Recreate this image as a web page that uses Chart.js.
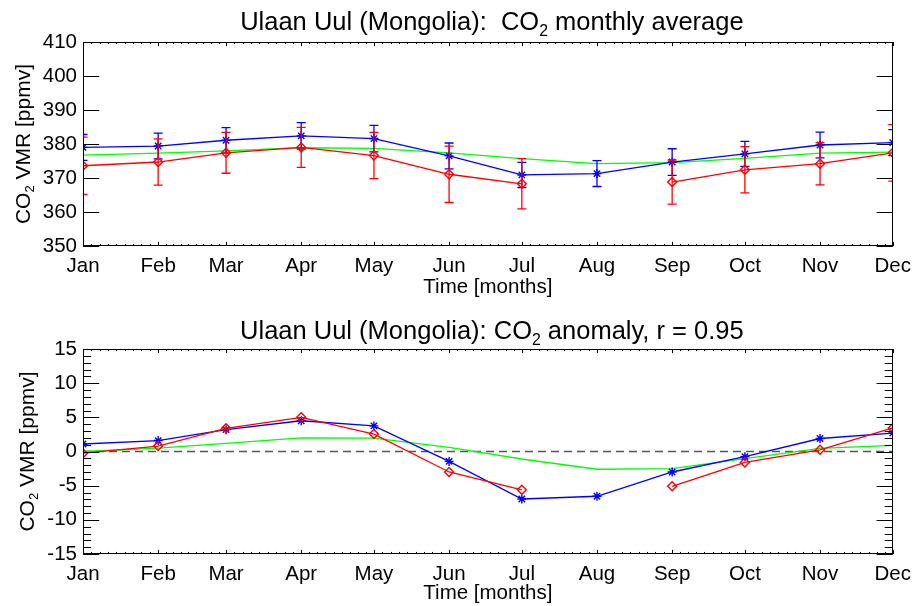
<!DOCTYPE html>
<html>
<head>
<meta charset="utf-8">
<script src="https://cdn.jsdelivr.net/npm/chart.js@4.4.0/dist/chart.umd.min.js"></script>
<style>
  html, body { margin: 0; padding: 0; background: #fff; }
  #wrap { position: relative; width: 919px; height: 606px; }
  canvas { position: absolute; left: 0; }
  #topChart { top: 0; }
  #bottomChart { top: 303px; }
</style>
</head>
<body>
<div id="wrap">
  <canvas id="topChart" width="919" height="303"></canvas>
  <canvas id="bottomChart" width="919" height="303"></canvas>
</div>
<script>
const FONT = "'Liberation Sans', Arial, Helvetica, sans-serif";

// x axis: day of year where each month starts
const monthNames = ["Jan", "Feb", "Mar", "Apr", "May", "Jun", "Jul", "Aug", "Sep", "Oct", "Nov", "Dec"];
const monthDays = [0, 31, 59, 90, 120, 151, 181, 212, 243, 273, 304, 334];

// monthly average [ppmv]
const avgGreen = [376.7, 377.3, 378.0, 378.9, 378.7, 377.4, 375.7, 374.2, 374.5, 375.8, 377.3, 377.6];
const avgBlue = [379.0, 379.4, 381.1, 382.4, 381.6, 376.5, 370.9, 371.3, 374.7, 377.1, 379.7, 380.4];
const avgBlueErr = [3.8, 3.8, 3.7, 3.9, 3.9, 3.8, 3.7, 3.8, 3.9, 3.7, 3.8, 3.8];
const avgRed = [373.6, 374.7, 377.4, 379.0, 376.6, 371.1, 368.3, null, 368.8, 372.4, 374.2, 377.4];
const avgRedErr = [8.4, 6.8, 6.0, 5.9, 6.8, 8.3, 7.4, null, 6.5, 6.8, 6.2, 8.3];

// anomaly [ppmv]
const anomGreen = [0.0, 0.5, 1.2, 2.0, 1.95, 0.6, -1.1, -2.6, -2.5, -1.05, 0.45, 0.9];
const anomBlue = [1.1, 1.6, 3.2, 4.5, 3.75, -1.45, -6.95, -6.55, -3.0, -0.75, 1.9, 2.7];
const anomRed = [-0.25, 0.8, 3.4, 5.0, 2.55, -3.0, -5.6, null, -5.1, -1.6, 0.25, 3.45];

// axis ranges / tick steps
const avgRange = [350, 410], avgStep = 10;
const anomRange = [-15, 15], anomStep = 5, anomMinor = 1;

const topTitle = [{ t: "Ulaan Uul (Mongolia):  CO" }, { t: "2", sub: true }, { t: " monthly average" }];
const bottomTitle = [{ t: "Ulaan Uul (Mongolia): CO" }, { t: "2", sub: true }, { t: " anomaly, r = 0.95" }];
const yTitle = [{ t: "CO" }, { t: "2", sub: true }, { t: " VMR [ppmv]" }];
const xTitle = "Time [months]";

const toPoints = (vals) => vals.map((v, i) => ({ x: monthDays[i], y: v }));

// text with a subscript part, y is the baseline
function drawRich(ctx, parts, size, x, y) {
  ctx.textAlign = "left";
  ctx.textBaseline = "alphabetic";
  let w = 0;
  parts.forEach(p => {
    ctx.font = (p.sub ? size * 0.62 : size) + "px " + FONT;
    w += ctx.measureText(p.t).width;
  });
  let cx = x - w / 2;
  parts.forEach(p => {
    const s = p.sub ? size * 0.62 : size;
    ctx.font = s + "px " + FONT;
    ctx.fillText(p.t, cx, p.sub ? y + size * 0.22 : y);
    cx += ctx.measureText(p.t).width;
  });
}

const richLabels = {
  id: "richLabels",
  afterDraw(chart, args, opts) {
    const { ctx, chartArea } = chart;
    ctx.save();
    ctx.fillStyle = "#000";
    // main title, roughly centred on the plot
    drawRich(ctx, opts.title, opts.titleSize, (chartArea.left + chartArea.right) / 2 + 4, opts.titleY + opts.titleSize * 0.358);
    // rotated y title
    ctx.translate(opts.yTitleX, (chartArea.top + chartArea.bottom) / 2);
    ctx.rotate(-Math.PI / 2);
    drawRich(ctx, yTitle, opts.yTitleSize, 0, opts.yTitleSize * 0.358);
    ctx.restore();
  }
};

// box + inward ticks on all four sides
const idlFrame = {
  id: "idlFrame",
  afterDraw(chart, args, opts) {
    const { ctx, chartArea: a, scales: { x, y } } = chart;
    const xLen = a.height * 0.02, yLen = a.width * 0.02;
    ctx.save();
    ctx.strokeStyle = "#000";
    ctx.lineWidth = 1;
    ctx.beginPath();
    const vtick = (px, len) => {
      px = Math.round(px) + 0.5;
      ctx.moveTo(px, a.bottom); ctx.lineTo(px, a.bottom - len);
      ctx.moveTo(px, a.top); ctx.lineTo(px, a.top + len);
    };
    const htick = (py, len) => {
      py = Math.round(py) + 0.5;
      ctx.moveTo(a.left, py); ctx.lineTo(a.left + len, py);
      ctx.moveTo(a.right, py); ctx.lineTo(a.right - len, py);
    };
    monthDays.forEach((d, i) => {
      vtick(x.getPixelForValue(d), xLen);
      if (i < monthDays.length - 1) {
        const step = (monthDays[i + 1] - d) / 9;
        for (let k = 1; k < 9; k++) vtick(x.getPixelForValue(d + step * k), xLen / 2);
      }
    });
    y.ticks.forEach(t => htick(y.getPixelForValue(t.value), yLen));
    if (opts.yMinor) {
      for (let v = y.min; v <= y.max; v += opts.yMinor) {
        if (v % opts.yStep !== 0) htick(y.getPixelForValue(v), yLen / 2);
      }
    }
    ctx.stroke();
    ctx.strokeRect(Math.round(a.left) + 0.5, Math.round(a.top) + 0.5, Math.round(a.width) - 1, Math.round(a.height) - 1);
    ctx.restore();
  }
};

// vertical error bars, drawn right after their own dataset
const errorBars = {
  id: "errorBars",
  afterDatasetDraw(chart, args) {
    const ds = chart.data.datasets[args.index];
    if (!ds.errors) return;
    const { ctx, chartArea: a, scales: { x, y } } = chart;
    ctx.save();
    ctx.beginPath();
    ctx.rect(a.left, a.top, a.width, a.height);
    ctx.clip();
    ctx.strokeStyle = ds.borderColor;
    ctx.lineWidth = 1.3;
    ctx.beginPath();
    ds.data.forEach((p, i) => {
      const e = ds.errors[i];
      if (p.y == null || e == null) return;
      const px = x.getPixelForValue(p.x);
      const top = y.getPixelForValue(p.y + e);
      const bot = y.getPixelForValue(p.y - e);
      ctx.moveTo(px, top); ctx.lineTo(px, bot);
      ctx.moveTo(px - 4.5, top); ctx.lineTo(px + 4.5, top);
      ctx.moveTo(px - 4.5, bot); ctx.lineTo(px + 4.5, bot);
    });
    ctx.stroke();
    ctx.restore();
  }
};

function lineSet(vals, color, style, errs) {
  return {
    data: toPoints(vals),
    errors: errs,
    borderColor: color,
    backgroundColor: "transparent",
    borderWidth: 1.3,
    pointStyle: style || false,
    pointRadius: style ? 4.5 : 0,
    pointBorderWidth: 1.4,
    pointBorderColor: color,
    pointBackgroundColor: "transparent",
    spanGaps: false,
    tension: 0,
    clip: 0
  };
}

function makeChart(id, sets, range, step, minor, cfg) {
  return new Chart(document.getElementById(id), {
    type: "line",
    data: { datasets: sets },
    options: {
      responsive: false,
      animation: false,
      events: [],
      layout: { padding: { top: cfg.top, right: 21, left: 0, bottom: 0 } },
      scales: {
        x: {
          type: "linear", min: 0, max: 334,
          grid: { display: false, drawTicks: false, tickLength: 0 },
          border: { display: false },
          afterBuildTicks: s => { s.ticks = monthDays.map(v => ({ value: v })); },
          afterFit: s => { s.height = cfg.xHeight; },
          ticks: {
            autoSkip: false, maxRotation: 0, padding: 8, color: "#000",
            font: { family: FONT, size: 20.5 },
            callback: v => monthNames[monthDays.indexOf(v)]
          },
          title: {
            display: true, text: xTitle, color: "#000",
            font: { family: FONT, size: 20.5 },
            padding: { top: 0, bottom: cfg.xTitlePad }
          }
        },
        y: {
          min: range[0], max: range[1],
          grid: { display: false, drawTicks: false, tickLength: 0 },
          border: { display: false },
          afterFit: s => { s.width = 83; },
          ticks: {
            stepSize: step, padding: 6, color: "#000",
            font: { family: FONT, size: 20.5 }
          }
        }
      },
      plugins: {
        legend: { display: false },
        tooltip: { enabled: false },
        idlFrame: { yStep: step, yMinor: minor },
        richLabels: {
          title: cfg.title, titleSize: 25.5, titleY: cfg.titleY,
          yTitleSize: 21, yTitleX: cfg.yTitleX
        }
      }
    },
    plugins: [idlFrame, errorBars, richLabels]
  });
}

// first dataset is drawn on top
makeChart("topChart", [
  lineSet(avgRed, "#ff0000", "rectRot", avgRedErr),
  lineSet(avgBlue, "#0000ff", "star", avgBlueErr),
  lineSet(avgGreen, "#00ff00")
], avgRange, avgStep, 0, { top: 42, xHeight: 57, xTitlePad: 3.5, title: topTitle, titleY: 21, yTitleX: 22 });

const zeroLine = lineSet([0, 0], "#555555");
zeroLine.data = [{ x: monthDays[0], y: 0 }, { x: monthDays[monthDays.length - 1], y: 0 }];
zeroLine.borderDash = [8, 5];
zeroLine.borderWidth = 1.5;

makeChart("bottomChart", [
  lineSet(anomRed, "#ff0000", "rectRot"),
  lineSet(anomBlue, "#0000ff", "star"),
  lineSet(anomGreen, "#00ff00"),
  zeroLine
], anomRange, anomStep, anomMinor, { top: 46, xHeight: 52, xTitlePad: 0, title: bottomTitle, titleY: 27, yTitleX: 26 });
</script>
</body>
</html>
